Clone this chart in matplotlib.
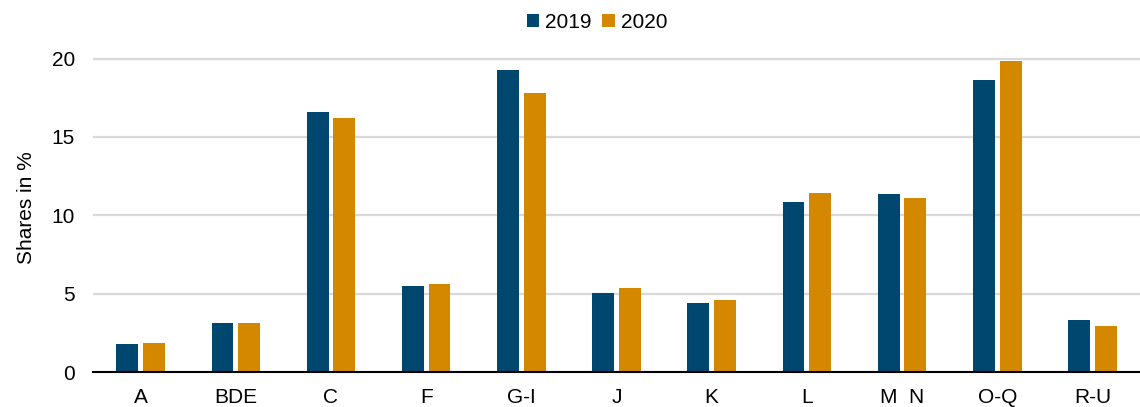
import numpy as np
import matplotlib
matplotlib.use("Agg")
import matplotlib.pyplot as plt

categories = ["A", "BDE", "C", "F", "G-I", "J", "K", "L", "M  N", "O-Q", "R-U"]
shares_2019 = [1.78, 3.14, 16.56, 5.50, 19.24, 5.05, 4.43, 10.85, 11.38, 18.66, 3.31]
shares_2020 = [1.85, 3.14, 16.20, 5.64, 17.80, 5.37, 4.58, 11.44, 11.08, 19.83, 2.95]

plt.rcParams['font.family'] = ['Liberation Sans', 'DejaVu Sans']

fig = plt.figure(figsize=(11.4, 4.07), dpi=100)
ax = fig.add_axes([0.0816, 0.0853, 0.9184, 0.8095])

x = np.arange(len(categories))
w = 0.23
ax.bar(x - 0.14, shares_2019, w, color='#00476F', label='2019', zorder=3)
ax.bar(x + 0.14, shares_2020, w, color='#D48800', label='2020', zorder=3)

ax.set_xlim(-0.5, len(categories) - 0.5)
ax.set_ylim(0, 21)
ax.set_yticks([0, 5, 10, 15, 20])
ax.set_xticks(x)
ax.set_xticklabels(categories)
ax.tick_params(axis='both', length=0, labelsize=15, colors='black')
ax.tick_params(axis='x', pad=11)
ax.tick_params(axis='y', pad=13)
ax.yaxis.grid(True, color='#d9d9d9', linewidth=1.6, zorder=0)
ax.set_axisbelow(True)
for s in ['top', 'right', 'left']:
    ax.spines[s].set_visible(False)
ax.spines['bottom'].set_linewidth(1.5)
ax.spines['bottom'].set_zorder(4)
ax.set_ylabel('Shares in %', fontsize=15, labelpad=11)

fig.legend(loc='center', bbox_to_anchor=(597 / 1140, 1 - 22 / 407), ncol=2,
           frameon=False, fontsize=15, handlelength=0.6, handleheight=0.6,
           handletextpad=0.3, columnspacing=0.5)

fig.savefig('out.png', dpi=100)
